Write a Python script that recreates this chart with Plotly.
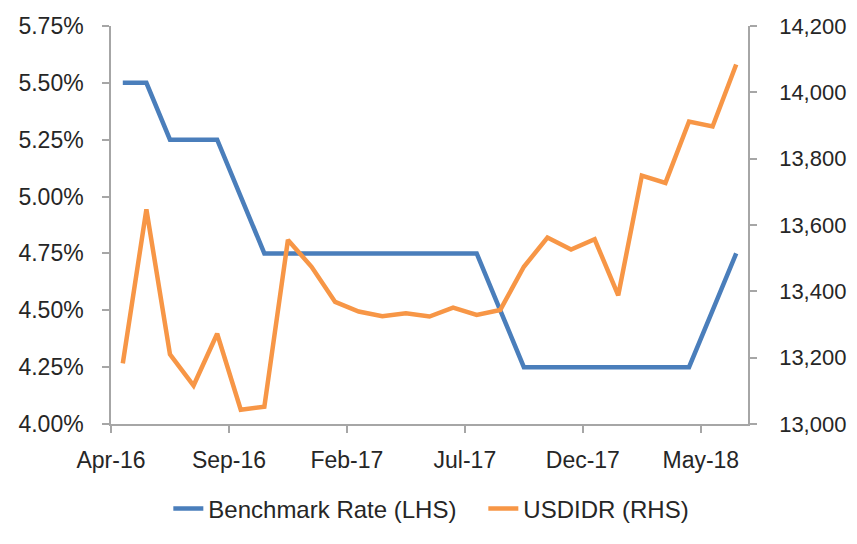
import plotly.graph_objects as go

months = ["Apr-16","May-16","Jun-16","Jul-16","Aug-16","Sep-16","Oct-16","Nov-16","Dec-16",
          "Jan-17","Feb-17","Mar-17","Apr-17","May-17","Jun-17","Jul-17","Aug-17","Sep-17",
          "Oct-17","Nov-17","Dec-17","Jan-18","Feb-18","Mar-18","Apr-18","May-18","Jun-18"]
benchmark_rate = [5.50,5.50,5.25,5.25,5.25,5.00,4.75,4.75,4.75,4.75,4.75,4.75,4.75,4.75,4.75,4.75,
                  4.50,4.25,4.25,4.25,4.25,4.25,4.25,4.25,4.25,4.50,4.75]
usdidr = [13183,13647,13210,13116,13272,13043,13052,13555,13474,13368,13339,13325,13334,13324,
          13351,13329,13344,13474,13562,13526,13557,13388,13749,13727,13912,13897,14084]
tick_months = ["Apr-16","Sep-16","Feb-17","Jul-17","Dec-17","May-18"]

x = list(range(len(months)))
tickvals = [months.index(m) - 0.5 for m in tick_months]

font_family = "Liberation Sans, Arial, sans-serif"
fs = 23
txt = "#262626"
axc = "#A6A6A6"

fig = go.Figure()
fig.add_trace(go.Scatter(x=x, y=benchmark_rate, mode="lines", name="Benchmark Rate (LHS)",
                         line=dict(color="#4A7EBB", width=4.5), yaxis="y"))
fig.add_trace(go.Scatter(x=x, y=usdidr, mode="lines", name="USDIDR (RHS)",
                         line=dict(color="#F79646", width=4.5), yaxis="y2"))

fig.update_layout(
    width=849, height=536,
    margin=dict(l=103, r=109, t=18, b=112),
    paper_bgcolor="white", plot_bgcolor="white",
    font=dict(family=font_family, size=fs, color=txt),
    showlegend=True,
    legend=dict(orientation="h", x=0.09, xanchor="left",
                y=-0.27, yanchor="bottom",
                font=dict(size=24, color=txt), entrywidth=270, entrywidthmode="pixels",
                bgcolor="rgba(0,0,0,0)"),
    xaxis=dict(range=[-0.5, len(months) - 0.5], tickvals=tickvals, ticktext=tick_months,
               showline=True, linecolor=axc, linewidth=1.5, ticks="outside", ticklen=7,
               tickcolor=axc, tickwidth=1.5, showgrid=False, zeroline=False, automargin=False,
               ticklabelstandoff=8, tickfont=dict(size=fs, color=txt)),
    yaxis=dict(range=[4.0, 5.75], dtick=0.25, tickformat=".2f", ticksuffix="%",
               showline=True, linecolor=axc, linewidth=1.5, ticks="outside", ticklen=7,
               tickcolor=axc, tickwidth=1.5, showgrid=False, zeroline=False, automargin=False,
               ticklabelstandoff=14, tickfont=dict(size=fs, color=txt)),
    yaxis2=dict(range=[13000, 14200], dtick=200, tickformat=",d", overlaying="y", side="right",
                showline=True, linecolor=axc, linewidth=1.5, ticks="outside", ticklen=7,
                tickcolor=axc, tickwidth=1.5, showgrid=False, zeroline=False, automargin=False,
                ticklabelstandoff=18, tickfont=dict(size=22, color=txt)),
)

fig.write_html("out.html")
